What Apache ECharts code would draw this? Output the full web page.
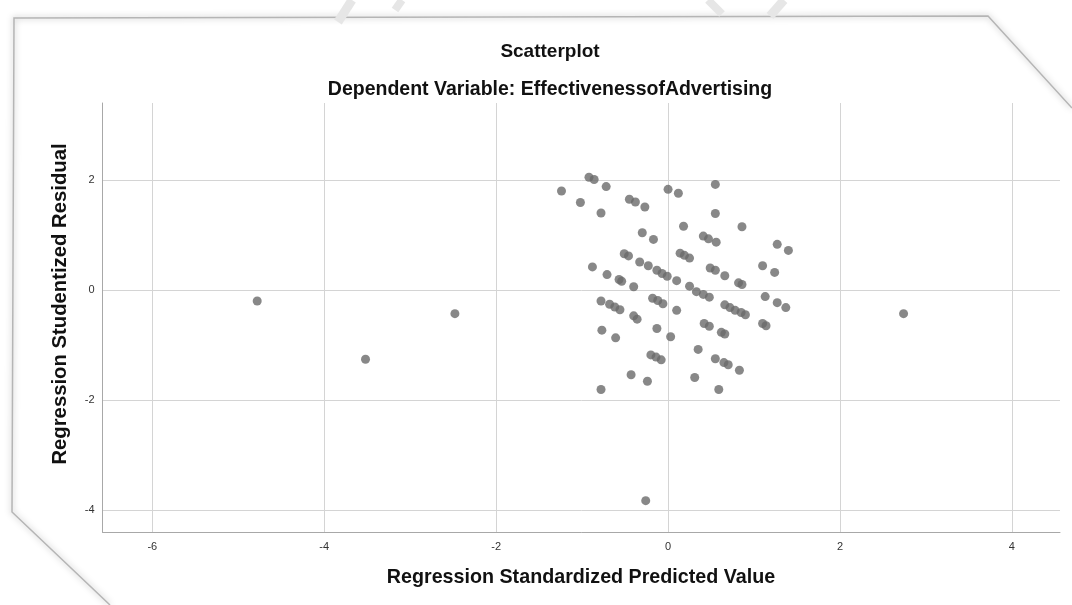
<!DOCTYPE html>
<html>
<head>
<meta charset="utf-8">
<script src="https://cdn.jsdelivr.net/npm/echarts@6/dist/echarts.min.js"></script>
<style>
html,body{margin:0;padding:0;background:#fff;}
#chart{width:1072px;height:605px;}
</style>
</head>
<body>
<div id="chart"></div>
<script>
// Regression Standardized Predicted Value (x) and Regression Studentized Residual (y)
const predicted = [
  -1.24,-0.92,-0.86,-0.72,-1.02,-0.78,-0.45,-0.38,-0.27,-0.30,-0.17,-0.51,-0.46,-0.33,-0.23,-0.13,-0.07,-0.01,-0.88,-0.71,-0.57,-0.54,-0.40,
  0.00,0.12,0.55,0.55,0.18,0.86,0.41,0.47,0.56,1.27,1.40,0.14,0.19,0.25,0.49,0.55,0.66,1.10,1.24,0.82,0.86,0.10,0.25,
  0.33,0.41,0.48,-0.78,-0.68,-0.62,-0.56,-0.18,-0.12,-0.06,0.10,0.66,0.72,0.78,0.85,0.90,1.13,1.27,1.37,-0.40,-0.36,
  -0.77,-0.61,-0.13,0.03,0.42,0.48,0.62,0.66,1.10,1.14,0.35,-0.20,-0.14,-0.08,0.55,0.65,0.70,0.83,-0.43,-0.24,0.31,-0.78,0.59,
  -4.78,-3.52,-2.48,2.74,-0.26
];
const residual = [
  1.80,2.05,2.01,1.88,1.59,1.40,1.65,1.60,1.51,1.04,0.92,0.66,0.62,0.51,0.44,0.36,0.30,0.25,0.42,0.28,0.19,0.16,0.06,
  1.83,1.76,1.92,1.39,1.16,1.15,0.98,0.93,0.87,0.83,0.72,0.67,0.63,0.58,0.40,0.36,0.26,0.44,0.32,0.13,0.10,0.17,0.07,
  -0.03,-0.08,-0.13,-0.20,-0.26,-0.31,-0.36,-0.15,-0.19,-0.25,-0.37,-0.27,-0.32,-0.37,-0.41,-0.45,-0.12,-0.23,-0.32,-0.47,-0.53,
  -0.73,-0.87,-0.70,-0.85,-0.61,-0.66,-0.77,-0.80,-0.61,-0.65,-1.08,-1.18,-1.22,-1.27,-1.25,-1.32,-1.36,-1.46,-1.54,-1.66,-1.59,-1.81,-1.81,
  -0.20,-1.26,-0.43,-0.43,-3.83
];
const xTicks = [-6, -4, -2, 0, 2, 4];
const yTicks = [-4, -2, 0, 2];
const titleText = 'Scatterplot';
const subtitleText = 'Dependent Variable: EffectivenessofAdvertising';
const xTitle = 'Regression Standardized Predicted Value';
const yTitle = 'Regression Studentized Residual';

const points = predicted.map((x, i) => [x, residual[i]]);
const FONT = '"Liberation Sans", Arial, sans-serif';

const chart = echarts.init(document.getElementById('chart'), null, {renderer: 'canvas'});
chart.setOption({
  backgroundColor: '#ffffff',
  animation: false,
  grid: {left: 102.5, right: 12, top: 103, bottom: 73, containLabel: false},
  xAxis: {
    type: 'value', min: -6.58, max: 4.56,
    axisLine: {show: true, onZero: false, lineStyle: {color: '#a8a8a8', width: 1}},
    axisTick: {show: false, customValues: xTicks},
    axisLabel: {customValues: xTicks, color: '#333', fontSize: 11, fontFamily: FONT, margin: 9},
    splitLine: {show: true, lineStyle: {color: '#d4d4d4', width: 1}}
  },
  yAxis: {
    type: 'value', min: -4.40, max: 3.40,
    axisLine: {show: true, onZero: false, lineStyle: {color: '#a8a8a8', width: 1}},
    axisTick: {show: false, customValues: yTicks},
    axisLabel: {customValues: yTicks, color: '#333', fontSize: 11, fontFamily: FONT, margin: 8},
    splitLine: {show: true, lineStyle: {color: '#d4d4d4', width: 1}}
  },
  graphic: [
    {type: 'polyline', silent: true, z: 0,
      shape: {points: [[1072, 108], [988, 16], [14, 18], [12, 512], [110, 605]]},
      style: {fill: null, stroke: '#b5b5b5', lineWidth: 1.5, shadowBlur: 6, shadowColor: 'rgba(0,0,0,0.35)'}},
    {type: 'polyline', silent: true, z: 0, shape: {points: [[338, 22], [352, 0]]}, style: {stroke: '#e6e6e6', lineWidth: 9}},
    {type: 'polyline', silent: true, z: 0, shape: {points: [[395, 10], [402, 0]]}, style: {stroke: '#e6e6e6', lineWidth: 8}},
    {type: 'polyline', silent: true, z: 0, shape: {points: [[708, 0], [722, 14]]}, style: {stroke: '#e6e6e6', lineWidth: 8}},
    {type: 'polyline', silent: true, z: 0, shape: {points: [[770, 16], [784, 0]]}, style: {stroke: '#e6e6e6', lineWidth: 9}},
    {type: 'text', x: 550, y: 52, silent: true,
      style: {text: titleText, fill: '#111', font: 'bold 19px ' + FONT, textAlign: 'center', textVerticalAlign: 'middle'}},
    {type: 'text', x: 550, y: 90, silent: true,
      style: {text: subtitleText, fill: '#111', font: 'bold 19.5px ' + FONT, textAlign: 'center', textVerticalAlign: 'middle'}},
    {type: 'text', x: 581, y: 578, silent: true,
      style: {text: xTitle, fill: '#111', font: 'bold 19.7px ' + FONT, textAlign: 'center', textVerticalAlign: 'middle'}},
    {type: 'text', x: 60, y: 304, rotation: Math.PI / 2, silent: true,
      style: {text: yTitle, fill: '#111', font: 'bold 20.3px ' + FONT, textAlign: 'center', textVerticalAlign: 'middle'}}
  ],
  series: [{
    type: 'scatter',
    data: points,
    symbol: 'circle',
    symbolSize: 9,
    itemStyle: {color: '#6a6a6a'},
    z: 3
  }]
});
</script>
</body>
</html>
